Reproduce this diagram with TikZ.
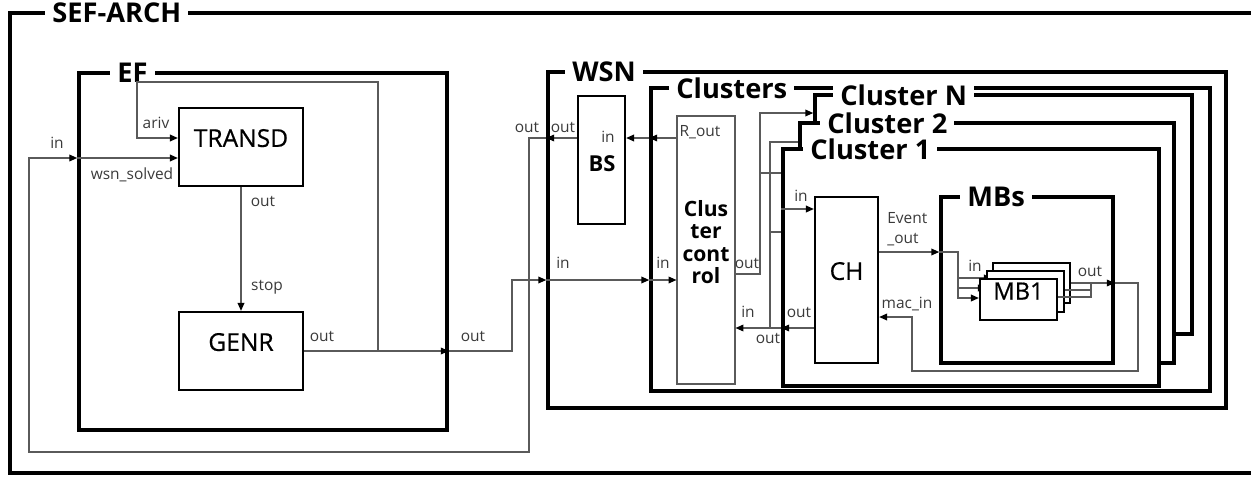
\documentclass[tikz,border=0pt]{standalone}
\usepackage{fontspec}
\setmainfont{Open Sans}
\newfontfamily\medfont{Open Sans}[FakeBold=0.6]
\usepackage{tikz}
\usetikzlibrary{arrows.meta,fit}
\definecolor{wiregray}{HTML}{5A5A5A}
\definecolor{lblgray}{HTML}{3A3A3A}

\begin{document}
\begin{tikzpicture}[x=0.02cm, y=-0.02cm,
    frame/.style={draw=black, line width=2pt, fill=white, inner sep=0pt},
    flbl/.style={fill=white, anchor=west, inner xsep=4pt, inner ysep=0pt,
                 font=\fontsize{15.5}{18}\selectfont\bfseries},
    box/.style={draw=black, line width=1.3pt, fill=white, inner sep=0pt,
                font=\medfont\fontsize{14}{16}\selectfont},
    wire/.style={draw=wiregray, line width=0.75pt},
    arr/.style={wire, -{Triangle[length=4.5pt, width=3.8pt, color=black]}},
    lbl/.style={font=\fontsize{8.8}{11.3}\selectfont, text=lblgray, inner sep=0pt}
]
  \useasboundingbox (0,0) rectangle (1251,477);
  \clip (0,0) rectangle (1251,477);

  % Frames
  \node[frame, fit={(10,13) (1275,473)}] (sef) {};
  \node[flbl] (sef-t) at (45,13) {SEF-ARCH};
  \node[frame, fit={(79,73) (447,430)}] (ef) {};
  \node[flbl] (ef-t) at (110,73) {EF};
  \node[frame, fit={(548,72) (1226,408)}] (wsn) {};
  \node[flbl] (wsn-t) at (565,72) {WSN};
  \node[frame, fit={(651,88) (1210,391)}] (clusters) {};
  \node[flbl] (clusters-t) at (669,88) {Clusters};
  \node[frame, fit={(815,95) (1192,334)}] (clN) {};
  \node[flbl] (clN-t) at (833,95) {Cluster N};
  \node[frame, fit={(800,123) (1174,363)}] (cl2) {};
  \node[flbl] (cl2-t) at (820,123) {Cluster 2};
  \node[frame, fit={(783,149) (1159,386)}] (cl1) {};
  \node[flbl] (cl1-t) at (803,149) {Cluster 1};
  \node[frame, fit={(941,197) (1113,363)}] (mbs) {};
  \node[flbl] (mbs-t) at (960,197) {MBs};

  % Blocks
  \node[box, fit={(179,108) (303,186)}] (transd) {TRANSD};
  \node[box, fit={(179,312) (303,390)}] (genr) {GENR};
  \node[box, fit={(578,96) (625,224)}] (bs) {};
  \node[font=\fontsize{12.5}{14}\selectfont\bfseries, inner sep=0pt] (bs-t) at (602,164) {BS};
  \node[draw=wiregray, line width=0.6pt, fill=white, inner sep=0pt, fit={(677,116) (735,384)},
        align=center, font=\fontsize{12}{12.8}\selectfont\bfseries] (cc) {Clus\\ter\\cont\\rol};
  \node[box, fit={(815,197) (878,363)}] (ch) {CH};

  % EF wiring
  \draw[arr] (bs.west |- 0,138) -- (wsn.west |- 0,138);
  \draw[arr] (wsn.west |- 0,138) -| (529,452) -| (29,158) -- (ef.west |- 0,158);
  \draw[arr] (ef.west |- 0,158) -- (transd.west |- 0,158);
  \draw[arr] (378,351) |- (137,82) |- (transd.west |- 0,138);
  \draw[arr] (transd.south) -- (transd.south |- genr.north);
  \draw[arr] (genr.east) -- (ef.east |- genr.east);
  \draw[arr] (ef.east |- genr.east) -| (512,280) -- (wsn.west |- 0,280);

  % WSN wiring
  \draw[arr] (wsn.west |- 0,280) -- (clusters.west |- 0,280);
  \draw[arr] (clusters.west |- 0,280) -- (cc.west |- 0,280);
  \draw[arr] (cc.west |- 0,138) -- (clusters.west |- 0,138);
  \draw[arr] (clusters.west |- 0,138) -- (bs.east |- 0,138);
  \draw[arr] (cc.east |- 0,274) -| (760,113) -- (clN.west |- 0,113);
  \draw[wire] (760,173) -- (cl1.west |- 0,173);
  \draw[wire] (cl2.west |- 0,142) -| (770,328);
  \draw[wire] (770,232) -- (cl1.west |- 0,232);
  \draw[arr] (ch.west |- 0,328) -- (cl1.west |- 0,328);
  \draw[arr] (cl1.west |- 0,328) -- (cc.east |- 0,328);
  \draw[arr] (cl1.west |- 0,209) -- (ch.west |- 0,209);
  \draw[arr] (ch.east |- 0,252) -- (mbs.west |- 0,252);

  % MB stack
  \node[box, fit={(993,263) (1070,303)}] (mb3) {};
  \draw[arr] (958,278) -- (mb3.west |- 0,278);
  \draw[wire] (mb3.east |- 0,283) -- (1091,283);
  \node[box, fit={(987,271) (1064,312)}] (mb2) {};
  \draw[arr] (958,288) -- (mb2.west |- 0,288);
  \draw[wire] (mb2.east |- 0,290) -- (1091,290);
  \node[box, fit={(980,279) (1057,320)}, font=\medfont\fontsize{13.5}{15}\selectfont] (mb1) {MB1};
  \draw[arr] (mbs.west |- 0,252) -| (958,298) -- (mb1.west |- 0,298);
  \draw[wire] (mb1.east |- 0,297) -| (1091,283);
  \draw[arr] (1091,283) -- (mbs.east |- 0,283);
  \draw[arr] (mbs.east |- 0,283) -| (1138,371) -| (912,317) -- (ch.east |- 0,317);

  % Port labels
  \node[lbl] (l-in) at (57,143) {in};
  \node[lbl] (l-wsn) at (132,175) {wsn\_solved};
  \node[lbl] (l-ariv) at (156,123) {ariv};
  \node[lbl] (l-tout) at (263,201) {out};
  \node[lbl] (l-stop) at (267,287) {stop};
  \node[lbl] (l-gout) at (322,336) {out};
  \node[lbl] (l-efout) at (473,336) {out};
  \node[lbl] (l-wsnin) at (563,263) {in};
  \node[lbl] (l-clin) at (663,263) {in};
  \node[lbl] (l-bsout2) at (527,127) {out};
  \node[lbl] (l-bsout1) at (563,127) {out};
  \node[lbl] (l-bsin) at (608,137) {in};
  \node[lbl] (l-rout) at (700,132) {R\_out};
  \node[lbl] (l-ccout) at (747,263) {out};
  \node[lbl] (l-ccin) at (748,312) {in};
  \node[lbl] (l-chout1) at (799,312) {out};
  \node[lbl] (l-chout2) at (768,338) {out};
  \node[lbl] (l-chin) at (801,196) {in};
  \node[lbl, align=left, anchor=west] (l-evt) at (887,229) {Event\\\_out};
  \node[lbl] (l-mac) at (907,304) {mac\_in};
  \node[lbl] (l-mbin) at (975,266) {in};
  \node[lbl] (l-mbout) at (1090,271) {out};
\end{tikzpicture}
\end{document}
